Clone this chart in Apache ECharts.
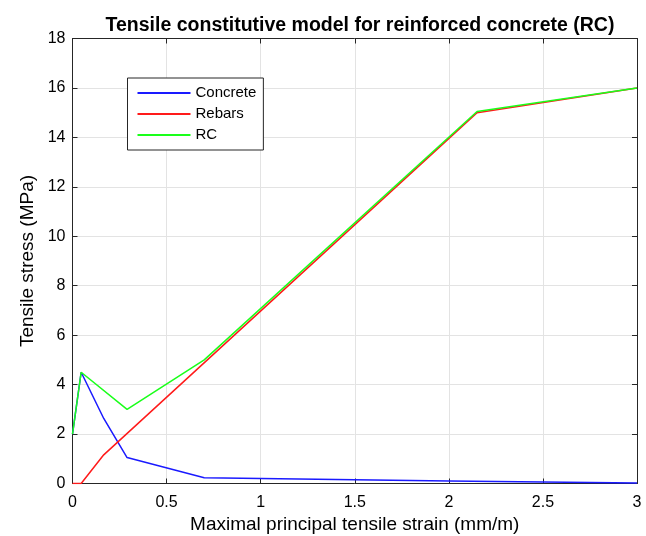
<!DOCTYPE html>
<html><head><meta charset="utf-8">
<script src="https://cdn.jsdelivr.net/npm/echarts@6/dist/echarts.min.js"></script>
<style>html,body{margin:0;padding:0;background:#fff}#c{width:646px;height:536px}</style>
</head><body><div id="c"></div>
<script>
const titleText = 'Tensile constitutive model for reinforced concrete (RC)';
const xName = 'Maximal principal tensile strain (mm/m)';
const yName = 'Tensile stress (MPa)';
const seriesNames = ['Concrete', 'Rebars', 'RC'];
const seriesColors = ['#1a1aff', '#ff1a1a', '#1aff1a'];
const concrete = [[0, 2], [0.046, 4.5], [0.166, 2.63], [0.29, 1.05], [0.70, 0.23], [1.0, 0.2], [2.0, 0.1], [3.0, 0.02]];
const rebars = [[0, 0], [0.046, 0], [0.166, 1.16], [2.15, 15.0], [3.0, 16.0]];
const rc = [[0, 2], [0.046, 4.5], [0.29, 3.0], [0.70, 5.0], [2.15, 15.05], [3.0, 16.0]];
const xTicks = { min: 0, max: 3, interval: 0.5 };
const yTicks = { min: 0, max: 18, interval: 2 };

const font = 'Liberation Sans, Arial, Helvetica, sans-serif';
const axisColor = '#262626';
const chart = echarts.init(document.getElementById('c'), null, { renderer: 'canvas' });
function tick() { return { show: true, inside: true, length: 5, lineStyle: { color: axisColor, width: 1 } }; }
function line() { return { show: true, onZero: false, lineStyle: { color: axisColor, width: 1 } }; }
const split = { show: true, lineStyle: { color: '#e3e3e3', width: 1 } };
const label = { color: '#000', fontSize: 16, fontFamily: font, margin: 11 };
const dataSets = [concrete, rebars, rc];
chart.setOption({
  animation: false,
  title: { text: titleText, top: 11, left: 355, textAlign: 'center',
    textStyle: { fontSize: 19.5, fontWeight: 'bold', color: '#000', fontFamily: font } },
  grid: { left: 72.5, right: 9, top: 38.5, bottom: 52.5, containLabel: false, outerBoundsMode: 'none' },
  legend: {
    orient: 'vertical', left: 127.5, top: 78,
    data: seriesNames, icon: 'rect', itemWidth: 53, itemHeight: 2, itemGap: 5,
    padding: [7, 7, 7, 10],
    backgroundColor: '#fff', borderColor: axisColor, borderWidth: 1, borderRadius: 0,
    textStyle: { fontSize: 15, fontFamily: font, color: '#000', lineHeight: 16 }
  },
  xAxis: [
    { type: 'value', position: 'bottom', min: xTicks.min, max: xTicks.max, interval: xTicks.interval,
      name: xName, nameLocation: 'middle', nameGap: 32,
      nameTextStyle: { fontSize: 19, fontFamily: font, color: '#000' },
      axisLine: line(), axisTick: tick(), splitLine: split, axisLabel: label },
    { type: 'value', position: 'top', min: xTicks.min, max: xTicks.max, interval: xTicks.interval,
      axisLine: line(), axisTick: tick(), splitLine: { show: false }, axisLabel: { show: false } }
  ],
  yAxis: [
    { type: 'value', position: 'left', min: yTicks.min, max: yTicks.max, interval: yTicks.interval,
      name: yName, nameLocation: 'middle', nameGap: 35,
      nameTextStyle: { fontSize: 19, fontFamily: font, color: '#000' },
      axisLine: line(), axisTick: tick(), splitLine: split,
      axisLabel: Object.assign({}, label, { margin: 7, padding: [3, 0, 0, 0] }) },
    { type: 'value', position: 'right', min: yTicks.min, max: yTicks.max, interval: yTicks.interval,
      axisLine: line(), axisTick: tick(), splitLine: { show: false }, axisLabel: { show: false } }
  ],
  series: seriesNames.map((n, i) => ({
    name: n, type: 'line', data: dataSets[i], showSymbol: false, symbol: 'none',
    color: seriesColors[i], lineStyle: { width: 1.5, color: seriesColors[i] }, z: 2 + i
  }))
});
</script></body></html>
